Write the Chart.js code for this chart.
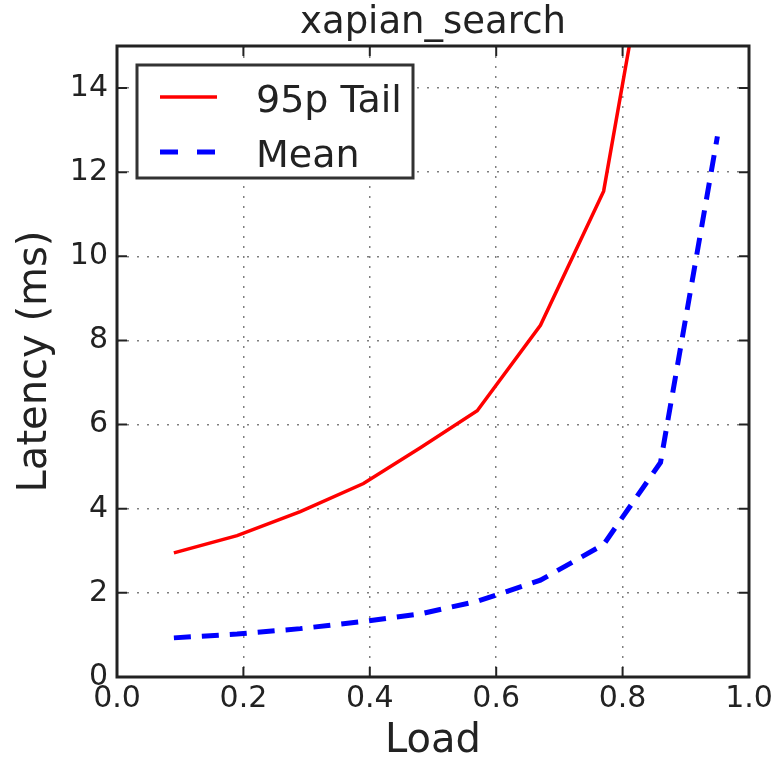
<!DOCTYPE html>
<html>
<head>
<meta charset="utf-8">
<script src="https://cdn.jsdelivr.net/npm/chart.js@4.4.0/dist/chart.umd.min.js"></script>
<style>
    html, body { margin: 0; padding: 0; background: #fff; }
    #wrap { width: 779px; height: 762px; }
</style>
</head>
<body>
<div id="wrap"><canvas id="latencyChart" width="779" height="762"></canvas></div>
<script>
// values
var loads = [0.09, 0.19, 0.29, 0.39, 0.48, 0.57, 0.67, 0.77, 0.86, 0.95];
var tail95 = [2.95, 3.36, 3.93, 4.6, 5.45, 6.33, 8.36, 11.55, 19.2, null];
var meanLat = [0.93, 1.02, 1.15, 1.32, 1.5, 1.8, 2.3, 3.15, 5.1, 12.85];
var xTicks = [0, 0.2, 0.4, 0.6, 0.8, 1.0];
var yTicks = [0, 2, 4, 6, 8, 10, 12, 14];

var FONT = "'DejaVu Sans', sans-serif";
var INK = '#222';

function toPoints(xs, ys) {
    var pts = [];
    for (var i = 0; i < xs.length; i++) {
        if (ys[i] !== null) pts.push({ x: xs[i], y: ys[i] });
    }
    return pts;
}

// frame, inside ticks, title and boxed legend (matplotlib look)
var mplDecor = {
    id: 'mplDecor',
    afterDatasetsDraw: function (chart) {
        var ctx = chart.ctx, a = chart.chartArea;
        var xs = chart.scales.x, ys = chart.scales.y;
        ctx.save();

        // inward ticks
        ctx.strokeStyle = INK;
        ctx.lineWidth = 2;
        ctx.beginPath();
        xTicks.forEach(function (v) {
            var px = xs.getPixelForValue(v);
            ctx.moveTo(px, a.bottom); ctx.lineTo(px, a.bottom - 10);
            ctx.moveTo(px, a.top); ctx.lineTo(px, a.top + 10);
        });
        yTicks.forEach(function (v) {
            var py = ys.getPixelForValue(v);
            ctx.moveTo(a.left, py); ctx.lineTo(a.left + 10, py);
            ctx.moveTo(a.right, py); ctx.lineTo(a.right - 10, py);
        });
        ctx.stroke();

        // frame
        ctx.lineWidth = 3;
        ctx.strokeRect(a.left, a.top, a.right - a.left, a.bottom - a.top);

        // title
        ctx.fillStyle = INK;
        ctx.font = '37px ' + FONT;
        ctx.textAlign = 'center';
        ctx.textBaseline = 'alphabetic';
        ctx.fillText('xapian_search', (a.left + a.right) / 2, 33);

        // legend
        var lx = a.left + 20, ly = a.top + 19, lw = 276, lh = 113;
        ctx.fillStyle = '#fff';
        ctx.fillRect(lx, ly, lw, lh);
        ctx.strokeStyle = '#333';
        ctx.lineWidth = 3;
        ctx.strokeRect(lx, ly, lw, lh);
        ctx.font = '38px ' + FONT;
        ctx.textAlign = 'left';
        chart.data.datasets.forEach(function (ds, i) {
            var yy = ly + 32 + i * 55;
            ctx.strokeStyle = ds.borderColor;
            ctx.lineWidth = ds.borderWidth;
            ctx.setLineDash(ds.borderDash ? [18, 19] : []);
            ctx.beginPath();
            ctx.moveTo(lx + 23, yy);
            ctx.lineTo(lx + 80, yy);
            ctx.stroke();
            ctx.setLineDash([]);
            ctx.fillStyle = INK;
            ctx.fillText(ds.label, lx + 119, yy + 15);
        });
        ctx.restore();
    }
};

var ctxL = document.getElementById('latencyChart').getContext('2d');
var latencyChart = new Chart(ctxL, {
    type: 'line',
    data: {
        datasets: [{
            label: '95p Tail',
            data: toPoints(loads, tail95),
            borderColor: '#ff0000',
            borderWidth: 3.5,
            pointRadius: 0,
            tension: 0,
            fill: false
        }, {
            label: 'Mean',
            data: toPoints(loads, meanLat),
            borderColor: '#0000ff',
            borderWidth: 5,
            borderDash: [17, 11],
            pointRadius: 0,
            tension: 0,
            fill: false
        }]
    },
    options: {
        responsive: false,
        animation: false,
        layout: { padding: { top: 46, right: 30, left: 0, bottom: 0 } },
        plugins: {
            legend: { display: false },
            tooltip: { enabled: false }
        },
        scales: {
            x: {
                type: 'linear',
                min: 0,
                max: 1,
                afterFit: function (scale) { scale.height = 85; },
                afterBuildTicks: function (scale) {
                    scale.ticks = xTicks.map(function (v) { return { value: v }; });
                },
                border: { display: false, dash: [2, 8] },
                grid: {
                    color: 'rgba(0,0,0,0.5)',
                    lineWidth: 1.5,
                    drawTicks: false
                },
                ticks: {
                    font: { family: FONT, size: 30 },
                    color: INK,
                    padding: 4,
                    maxRotation: 0,
                    callback: function (v) { return Number(v).toFixed(1); }
                },
                title: {
                    display: true,
                    text: 'Load',
                    font: { family: FONT, size: 40, lineHeight: 1 },
                    color: INK,
                    padding: { top: 0, bottom: 0 }
                }
            },
            y: {
                min: 0,
                max: 15,
                afterFit: function (scale) { scale.width = 117; },
                afterBuildTicks: function (scale) {
                    scale.ticks = yTicks.map(function (v) { return { value: v }; });
                },
                border: { display: false, dash: [2, 8] },
                grid: {
                    color: 'rgba(0,0,0,0.5)',
                    lineWidth: 1.5,
                    drawTicks: false
                },
                ticks: {
                    font: { family: FONT, size: 30 },
                    color: INK,
                    padding: 9
                },
                title: {
                    display: true,
                    text: 'Latency (ms)',
                    font: { family: FONT, size: 40 },
                    color: INK,
                    padding: { top: 12, bottom: 0 }
                }
            }
        }
    },
    plugins: [mplDecor]
});
</script>
</body>
</html>
